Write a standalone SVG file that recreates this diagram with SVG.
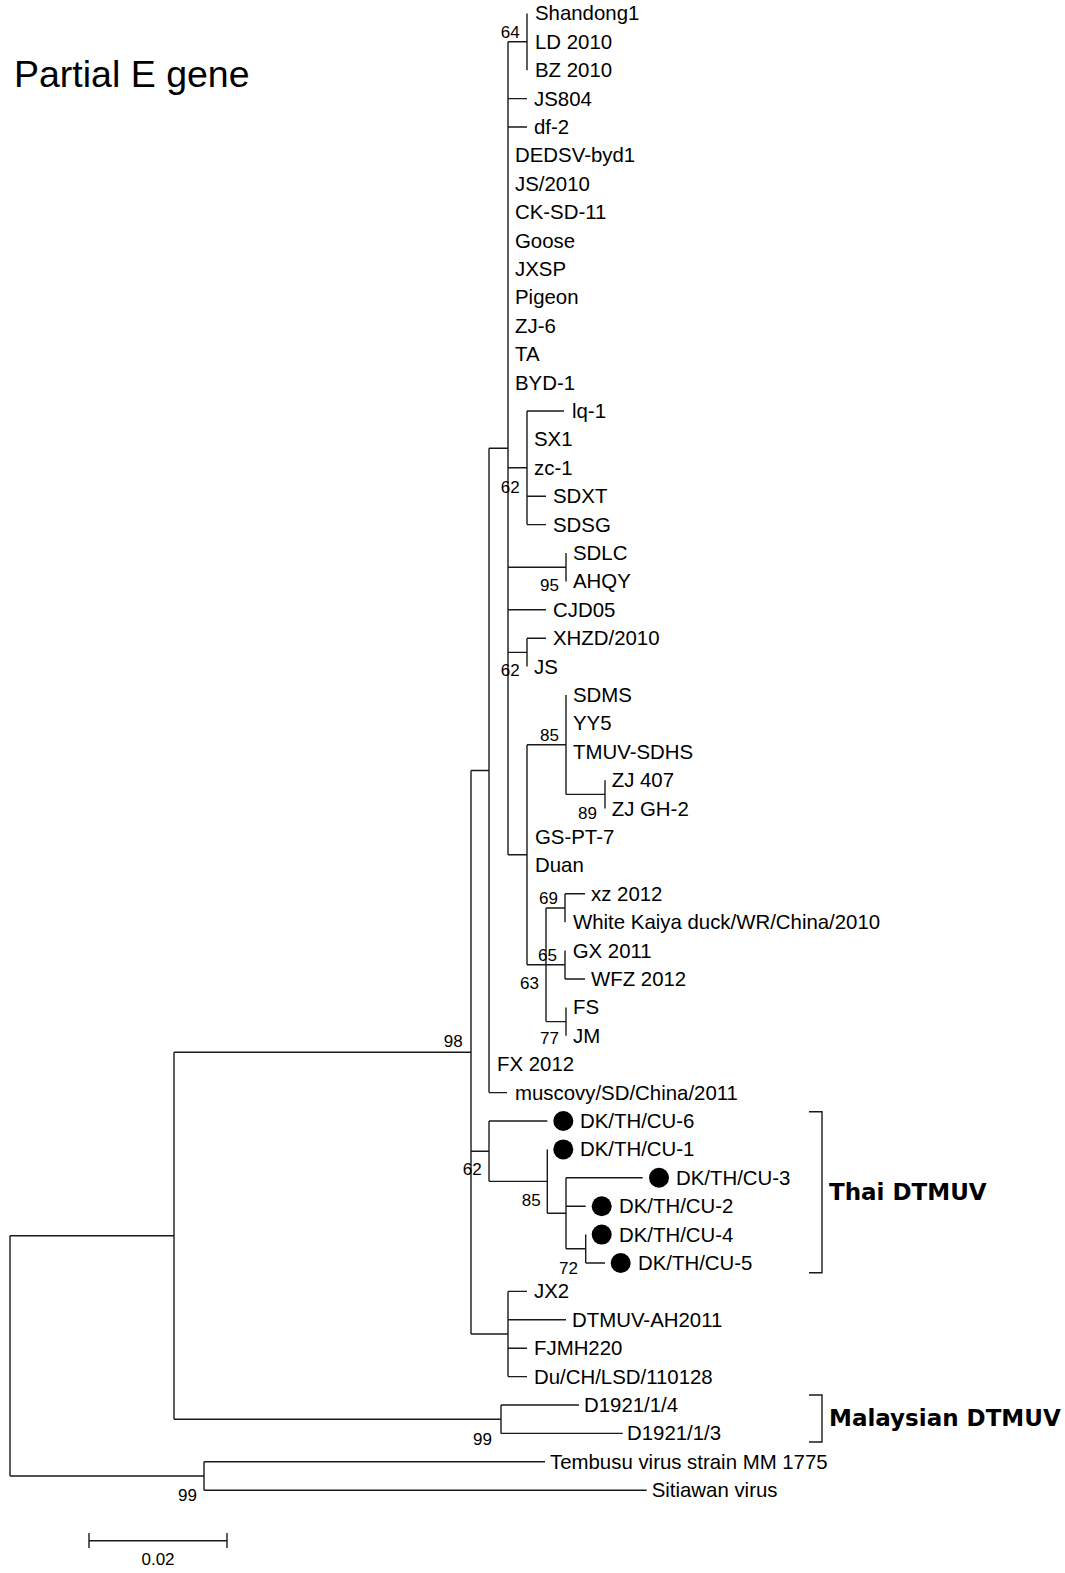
<svg xmlns="http://www.w3.org/2000/svg" width="1065" height="1573" viewBox="0 0 1065 1573">
<style>
.lbl{font-family:"Liberation Sans",Arial,sans-serif;font-size:20.4px;fill:#000}
.bs{font-family:"Liberation Sans",Arial,sans-serif;font-size:17px;fill:#000}
.grp{font-family:"DejaVu Sans",Verdana,sans-serif;font-size:23px;font-weight:bold;fill:#000}
.title{font-family:"Liberation Sans",Arial,sans-serif;font-size:37.5px;fill:#000}
.br{fill:none;stroke:#1a1a1a;stroke-width:1.4}
.dot{fill:#000}
</style>
<rect width="1065" height="1573" fill="#fff"/>
<text class="title" x="14" y="87">Partial E gene</text>
<g id="connectors" class="br">
<path d="M10,1235.7V1476M10,1235.7H174M10,1476H204"/>
<path d="M174,1052.2V1419.2M174,1052.2H471M174,1419.2H501"/>
<path d="M204,1461.8V1490.2M204,1461.8H545M204,1490.2H646.7"/>
<path d="M501,1405V1433.4M501,1405H579M501,1433.4H622.7"/>
<path d="M471,770.45V1334M471,770.45H489M471,1151.2H489M471,1334H508"/>
<path d="M489,448.3V1092.6M489,448.3H508M489,1092.6H507"/>
<path d="M508,41.8V854.75M508,41.8H527M508,98.6H527M508,127H527M508,467.8H527M508,567.2H566M508,609.8H546M508,652.4H527M508,854.75H527"/>
<path d="M527,13.4V70.2"/>
<path d="M527,411V524.6M527,411H564M527,496.2H546M527,524.6H546"/>
<path d="M566,553V581.4"/>
<path d="M527,638.2V666.6M527,638.2H546"/>
<path d="M527,744.7V964.8M527,744.7H566M527,964.8H565"/>
<path d="M566,695V794.4M566,794.4H605"/>
<path d="M605,780.2V808.6"/>
<path d="M546,908V1021.6M546,908H565M546,1021.6H566"/>
<path d="M565,893.8V922.2M565,893.8H585"/>
<path d="M565,950.6V979M565,979H585"/>
<path d="M566,1007.4V1035.8"/>
<path d="M489,1121V1181.35M489,1121H547.3M489,1181.35H547.3"/>
<path d="M547.3,1149.4V1213.3M547.3,1213.3H566"/>
<path d="M566,1177.8V1248.8M566,1177.8H642.7M566,1206.2H585.7M566,1248.8H585.7"/>
<path d="M585.7,1234.6V1263M585.7,1263H605"/>
<path d="M508,1291.4V1376.6M508,1291.4H527M508,1319.8H566M508,1348.2H527M508,1376.6H527"/>
<path d="M809,1111.7H822V1272.7H809"/>
<path d="M809,1395H822V1442H809"/>
<path d="M89,1540.7H227M89,1533V1548M227,1533V1548"/>
</g>
<g id="bootstrap">
<text class="bs" x="500.7" y="38">64</text>
<text class="bs" x="500.7" y="493">62</text>
<text class="bs" x="540" y="591">95</text>
<text class="bs" x="500.7" y="676">62</text>
<text class="bs" x="540" y="741">85</text>
<text class="bs" x="578" y="819">89</text>
<text class="bs" x="539" y="904">69</text>
<text class="bs" x="538" y="961">65</text>
<text class="bs" x="520" y="989">63</text>
<text class="bs" x="540" y="1044">77</text>
<text class="bs" x="462.7" y="1047" text-anchor="end">98</text>
<text class="bs" x="462.7" y="1175">62</text>
<text class="bs" x="521.7" y="1206">85</text>
<text class="bs" x="559" y="1274">72</text>
<text class="bs" x="473" y="1445">99</text>
<text class="bs" x="178" y="1501">99</text>
</g>
<g id="n-shandong1"><text class="lbl" x="535" y="20.4">Shandong1</text></g>
<g id="n-ld2010"><text class="lbl" x="535" y="48.8">LD 2010</text></g>
<g id="n-bz2010"><text class="lbl" x="535" y="77.2">BZ 2010</text></g>
<g id="n-js804"><text class="lbl" x="534" y="105.6">JS804</text></g>
<g id="n-df2"><text class="lbl" x="534" y="134">df-2</text></g>
<g id="n-dedsv"><text class="lbl" x="515" y="162.4">DEDSV-byd1</text></g>
<g id="n-js2010"><text class="lbl" x="515" y="190.8">JS/2010</text></g>
<g id="n-cksd11"><text class="lbl" x="515" y="219.2">CK-SD-11</text></g>
<g id="n-goose"><text class="lbl" x="515" y="247.6">Goose</text></g>
<g id="n-jxsp"><text class="lbl" x="515" y="276">JXSP</text></g>
<g id="n-pigeon"><text class="lbl" x="515" y="304.4">Pigeon</text></g>
<g id="n-zj6"><text class="lbl" x="515" y="332.8">ZJ-6</text></g>
<g id="n-ta"><text class="lbl" x="515" y="361.2">TA</text></g>
<g id="n-byd1"><text class="lbl" x="515" y="389.6">BYD-1</text></g>
<g id="n-lq1"><text class="lbl" x="572" y="418">lq-1</text></g>
<g id="n-sx1"><text class="lbl" x="534" y="446.4">SX1</text></g>
<g id="n-zc1"><text class="lbl" x="534" y="474.8">zc-1</text></g>
<g id="n-sdxt"><text class="lbl" x="553" y="503.2">SDXT</text></g>
<g id="n-sdsg"><text class="lbl" x="553" y="531.6">SDSG</text></g>
<g id="n-sdlc"><text class="lbl" x="573" y="560">SDLC</text></g>
<g id="n-ahqy"><text class="lbl" x="573" y="588.4">AHQY</text></g>
<g id="n-cjd05"><text class="lbl" x="553" y="616.8">CJD05</text></g>
<g id="n-xhzd"><text class="lbl" x="553" y="645.2">XHZD/2010</text></g>
<g id="n-js"><text class="lbl" x="534" y="673.6">JS</text></g>
<g id="n-sdms"><text class="lbl" x="573" y="702">SDMS</text></g>
<g id="n-yy5"><text class="lbl" x="573" y="730.4">YY5</text></g>
<g id="n-tmuvsdhs"><text class="lbl" x="573" y="758.8">TMUV-SDHS</text></g>
<g id="n-zj407"><text class="lbl" x="611.7" y="787.2">ZJ 407</text></g>
<g id="n-zjgh2"><text class="lbl" x="611.7" y="815.6">ZJ GH-2</text></g>
<g id="n-gspt7"><text class="lbl" x="535" y="844">GS-PT-7</text></g>
<g id="n-duan"><text class="lbl" x="535" y="872.4">Duan</text></g>
<g id="n-xz2012"><text class="lbl" x="591" y="900.8">xz 2012</text></g>
<g id="n-whitekaiya"><text class="lbl" x="573" y="929.2">White Kaiya duck/WR/China/2010</text></g>
<g id="n-gx2011"><text class="lbl" x="572.7" y="957.6">GX 2011</text></g>
<g id="n-wfz2012"><text class="lbl" x="591" y="986">WFZ 2012</text></g>
<g id="n-fs"><text class="lbl" x="573" y="1014.4">FS</text></g>
<g id="n-jm"><text class="lbl" x="573" y="1042.8">JM</text></g>
<g id="n-fx2012"><text class="lbl" x="497" y="1071.2">FX 2012</text></g>
<g id="n-muscovy"><text class="lbl" x="515" y="1099.6">muscovy/SD/China/2011</text></g>
<g id="n-cu6"><circle class="dot" cx="563.3" cy="1121" r="10"/><text class="lbl" x="580" y="1128">DK/TH/CU-6</text></g>
<g id="n-cu1"><circle class="dot" cx="563.3" cy="1149.4" r="10"/><text class="lbl" x="580" y="1156.4">DK/TH/CU-1</text></g>
<g id="n-cu3"><circle class="dot" cx="659" cy="1177.8" r="10"/><text class="lbl" x="676" y="1184.8">DK/TH/CU-3</text></g>
<g id="n-cu2"><circle class="dot" cx="601.7" cy="1206.2" r="10"/><text class="lbl" x="619" y="1213.2">DK/TH/CU-2</text></g>
<g id="n-cu4"><circle class="dot" cx="601.7" cy="1234.6" r="10"/><text class="lbl" x="619" y="1241.6">DK/TH/CU-4</text></g>
<g id="n-cu5"><circle class="dot" cx="620.7" cy="1263" r="10"/><text class="lbl" x="638" y="1270">DK/TH/CU-5</text></g>
<g id="n-jx2"><text class="lbl" x="534" y="1298.4">JX2</text></g>
<g id="n-dtmuvah2011"><text class="lbl" x="572" y="1326.8">DTMUV-AH2011</text></g>
<g id="n-fjmh220"><text class="lbl" x="534" y="1355.2">FJMH220</text></g>
<g id="n-duchlsd"><text class="lbl" x="534" y="1383.6">Du/CH/LSD/110128</text></g>
<g id="n-d1921-4"><text class="lbl" x="584" y="1412">D1921/1/4</text></g>
<g id="n-d1921-3"><text class="lbl" x="627" y="1440.4">D1921/1/3</text></g>
<g id="n-tembusu"><text class="lbl" x="550" y="1468.8">Tembusu virus strain MM 1775</text></g>
<g id="n-sitiawan"><text class="lbl" x="651.7" y="1497.2">Sitiawan virus</text></g>
<g id="grp-thai"><text class="grp" x="829" y="1200">Thai DTMUV</text></g>
<g id="grp-malaysian"><text class="grp" x="829" y="1426">Malaysian DTMUV</text></g>
<g id="scale"><text class="bs" x="158" y="1565" text-anchor="middle">0.02</text></g>
</svg>
